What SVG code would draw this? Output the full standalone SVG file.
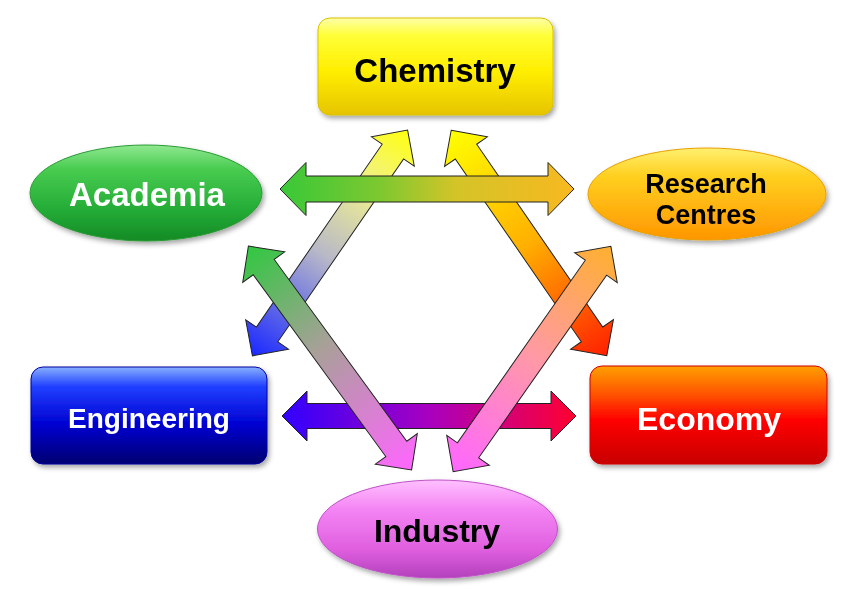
<svg xmlns="http://www.w3.org/2000/svg" width="865" height="599" viewBox="0 0 865 599">
<defs>
<style>
.arrow{stroke:#222;stroke-width:1;stroke-linejoin:miter}
.lbl{font-family:"Liberation Sans",Arial,sans-serif;font-weight:bold;text-anchor:middle}
.w{fill:#fff}
.k{fill:#000}
.node{filter:url(#sh)}
</style>
<filter id="sh" x="-10%" y="-10%" width="125%" height="135%">
<feDropShadow dx="2" dy="3" stdDeviation="2.5" flood-color="#000" flood-opacity="0.35"/>
</filter>
<linearGradient id="gChem" x1="0" y1="0" x2="0" y2="1">
<stop offset="0" stop-color="#ffffa8"/><stop offset="0.18" stop-color="#ffff38"/><stop offset="0.55" stop-color="#ffee00"/><stop offset="1" stop-color="#e6c400"/>
</linearGradient>
<linearGradient id="gAcad" x1="0" y1="0" x2="0" y2="1">
<stop offset="0" stop-color="#90e890"/><stop offset="0.25" stop-color="#48cc50"/><stop offset="0.7" stop-color="#22aa35"/><stop offset="1" stop-color="#158a25"/>
</linearGradient>
<linearGradient id="gRC" x1="0" y1="0" x2="0" y2="1">
<stop offset="0" stop-color="#fff070"/><stop offset="0.3" stop-color="#ffd020"/><stop offset="1" stop-color="#ff9600"/>
</linearGradient>
<linearGradient id="gEng" x1="0" y1="0" x2="0" y2="1">
<stop offset="0" stop-color="#88b0ff"/><stop offset="0.2" stop-color="#2040ff"/><stop offset="0.6" stop-color="#0000d0"/><stop offset="1" stop-color="#000070"/>
</linearGradient>
<linearGradient id="gEcon" x1="0" y1="0" x2="0" y2="1">
<stop offset="0" stop-color="#ffa000"/><stop offset="0.3" stop-color="#ff5000"/><stop offset="0.55" stop-color="#ff0000"/><stop offset="1" stop-color="#c80000"/>
</linearGradient>
<linearGradient id="gInd" x1="0" y1="0" x2="0" y2="1">
<stop offset="0" stop-color="#ffc0ff"/><stop offset="0.3" stop-color="#f484f4"/><stop offset="0.7" stop-color="#e060e0"/><stop offset="1" stop-color="#b440bc"/>
</linearGradient>
<linearGradient id="aTop" x1="0" y1="0" x2="1" y2="0">
<stop offset="0" stop-color="#38c838"/><stop offset="0.35" stop-color="#80c830"/><stop offset="0.6" stop-color="#d4c428"/><stop offset="1" stop-color="#f8b820"/>
</linearGradient>
<linearGradient id="aBot" x1="0" y1="0" x2="1" y2="0">
<stop offset="0" stop-color="#3000ff"/><stop offset="0.5" stop-color="#a800c0"/><stop offset="1" stop-color="#ff0030"/>
</linearGradient>
<linearGradient id="aCE" x1="0" y1="0" x2="1" y2="0">
<stop offset="0" stop-color="#1a28ff"/><stop offset="0.45" stop-color="#b8b8c8"/><stop offset="0.75" stop-color="#f0f090"/><stop offset="1" stop-color="#ffff10"/>
</linearGradient>
<linearGradient id="aCR" x1="0" y1="0" x2="1" y2="0">
<stop offset="0" stop-color="#ffff00"/><stop offset="0.5" stop-color="#ffb000"/><stop offset="1" stop-color="#ff2000"/>
</linearGradient>
<linearGradient id="aAI" x1="0" y1="0" x2="1" y2="0">
<stop offset="0" stop-color="#30c840"/><stop offset="0.45" stop-color="#a8a098"/><stop offset="1" stop-color="#ff66ff"/>
</linearGradient>
<linearGradient id="aRI" x1="0" y1="0" x2="1" y2="0">
<stop offset="0" stop-color="#ff66ff"/><stop offset="0.5" stop-color="#ff98a8"/><stop offset="1" stop-color="#ffb030"/>
</linearGradient>
</defs>
<rect width="865" height="599" fill="#fff"/>

<g id="connectors">
<path class="arrow" fill="url(#aCE)" transform="translate(330,243) rotate(-55.5)" d="M-137 0 L-111 -26 L-111 -13 L111 -13 L111 -26 L137 0 L111 26 L111 13 L-111 13 L-111 26 Z"/>
<path class="arrow" fill="url(#aCR)" transform="translate(529,243) rotate(55.4)" d="M-137 0 L-111 -26 L-111 -13 L111 -13 L111 -26 L137 0 L111 26 L111 13 L-111 13 L-111 26 Z"/>
<path class="arrow" fill="url(#aTop)" d="M280 189 L306 162.5 L306 176 L548 176 L548 162.5 L574 189 L548 215.5 L548 202 L306 202 L306 215.5 Z"/>
<path class="arrow" fill="url(#aBot)" d="M282 416 L307 391 L307 403.5 L551 403.5 L551 391 L576 416 L551 441 L551 428.5 L307 428.5 L307 441 Z"/>
<path class="arrow" fill="url(#aAI)" transform="translate(330,358) rotate(53.9)" d="M-138.5 0 L-112.5 -26 L-112.5 -13 L112.5 -13 L112.5 -26 L138.5 0 L112.5 26 L112.5 13 L-112.5 13 L-112.5 26 Z"/>
<path class="arrow" fill="url(#aRI)" transform="translate(532,359) rotate(-55)" d="M-137.5 0 L-111.5 -26 L-111.5 -13 L111.5 -13 L111.5 -26 L137.5 0 L111.5 26 L111.5 13 L-111.5 13 L-111.5 26 Z"/>
</g>

<g id="chemistry" class="node">
<rect x="318" y="18" width="235" height="97" rx="12" fill="url(#gChem)" stroke="#d8c000" stroke-width="1"/>
<text class="lbl k" x="435" y="82" font-size="33">Chemistry</text>
</g>
<g id="academia" class="node">
<ellipse cx="146" cy="193" rx="116" ry="48" fill="url(#gAcad)" stroke="#2a9a35" stroke-width="1"/>
<text class="lbl w" x="147" y="206" font-size="33">Academia</text>
</g>
<g id="research-centres" class="node">
<ellipse cx="707" cy="194" rx="119" ry="46" fill="url(#gRC)" stroke="#e8a000" stroke-width="1"/>
<text class="lbl k" x="706" y="193" font-size="27">Research</text>
<text class="lbl k" x="706" y="224" font-size="27">Centres</text>
</g>
<g id="engineering" class="node">
<rect x="31" y="367" width="236" height="97" rx="12" fill="url(#gEng)" stroke="#0000a0" stroke-width="1"/>
<text class="lbl w" x="149" y="428" font-size="28">Engineering</text>
</g>
<g id="economy" class="node">
<rect x="590" y="366" width="237" height="98" rx="12" fill="url(#gEcon)" stroke="#d00000" stroke-width="1"/>
<text class="lbl w" x="709" y="430" font-size="32">Economy</text>
</g>
<g id="industry" class="node">
<ellipse cx="437.5" cy="529" rx="120" ry="49" fill="url(#gInd)" stroke="#c050c8" stroke-width="1"/>
<text class="lbl k" x="437" y="542" font-size="32">Industry</text>
</g>
</svg>
